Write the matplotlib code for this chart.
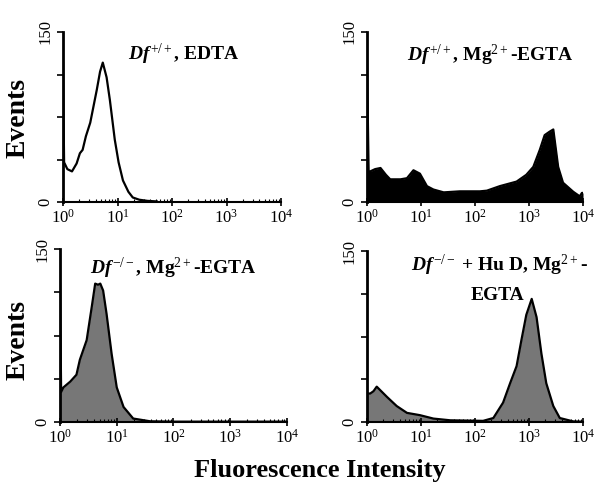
"""
Flow cytometry histograms: four panels
"""
import matplotlib
matplotlib.use('Agg')
import matplotlib.pyplot as plt
from matplotlib.ticker import LogLocator, NullFormatter
import numpy as np

plt.rcParams['font.family'] = ['Liberation Serif', 'DejaVu Serif']
plt.rcParams['mathtext.fontset'] = 'custom'
plt.rcParams['mathtext.rm'] = 'Liberation Serif'
plt.rcParams['mathtext.bf'] = 'Liberation Serif:bold'
plt.rcParams['mathtext.it'] = 'Liberation Serif:italic:bold'

# --- data (log10 intensity, events) ---
# Df+/+, EDTA
tl_logx = [0.0, 0.02, 0.08, 0.165, 0.25, 0.31, 0.36, 0.42, 0.5, 0.62, 0.68, 0.73, 0.8, 0.86, 0.95, 1.02, 1.1, 1.2, 1.28, 1.4, 1.55, 1.72]
tl_y = [123, 35, 29, 27, 34, 43, 46, 58, 70, 99, 115, 123, 110, 90, 55, 35, 19, 9, 4, 2, 1, 0.5]

# Df+/+, Mg2+-EGTA
tr_logx = [0.0, 0.03, 0.06, 0.15, 0.25, 0.35, 0.43, 0.62, 0.74, 0.86, 0.98, 1.11, 1.23, 1.42, 1.72, 2.09, 2.22, 2.46, 2.77, 2.95,
           3.08, 3.2, 3.29, 3.38, 3.45, 3.54, 3.63, 3.82, 3.94, 3.98, 4.0]
tr_y = [124, 27, 27, 29, 30, 24, 20, 20, 21, 28, 25, 14, 11, 8.5, 9.4, 9.4, 10, 14, 18, 24,
        31, 46, 59, 62, 64, 31, 17, 9, 5, 8, 8]

# Df-/-, Mg2+-EGTA
bl_logx = [0.0, 0.02, 0.06, 0.18, 0.29, 0.35, 0.47, 0.56, 0.62, 0.67, 0.71, 0.76, 0.82, 0.91, 1.0, 1.12, 1.29, 1.59, 2.0, 3.0, 4.0]
bl_y = [120, 26, 30, 35, 41, 54, 71, 100, 120, 119, 120, 114, 94, 59, 30, 13, 3, 0.6, 0.3, 0.3, 0.3]

# Df-/- + Hu D, Mg2+-EGTA
br_logx = [0.0, 0.06, 0.12, 0.18, 0.37, 0.55, 0.74, 0.98, 1.23, 1.54, 2.15, 2.34, 2.52, 2.65, 2.77, 2.86, 2.95, 3.05,
           3.14, 3.23, 3.32, 3.45, 3.57, 3.82, 4.0]
br_y = [25, 25, 27, 31, 22, 14, 8, 6, 3, 1.5, 1, 3.5, 17, 34, 49, 72, 94, 108,
        92, 60, 34, 14, 3.5, 0.5, 0.3]

W, H = 596, 497
fig = plt.figure(figsize=(W / 100, H / 100), dpi=100)


def px_axes(left, right, top, bottom):
    return fig.add_axes([left / W, 1 - bottom / H, (right - left) / W, (bottom - top) / H])


def style_axes(ax):
    ax.set_xscale('log')
    ax.set_xlim(1, 1e4)
    ax.set_ylim(0, 150)
    for s in ['top', 'right']:
        ax.spines[s].set_visible(False)
    ax.spines['left'].set_linewidth(2)
    ax.spines['bottom'].set_linewidth(1.5)
    ax.xaxis.set_major_locator(LogLocator(base=10, numticks=10))
    ax.xaxis.set_minor_locator(LogLocator(base=10, subs=np.arange(2, 10), numticks=50))
    ax.xaxis.set_minor_formatter(NullFormatter())
    ax.set_yticks([0, 37.5, 75, 112.5, 150])
    ax.set_yticklabels(['0', '', '', '', '150'], rotation=90, va='center', fontsize=12)
    ax.tick_params(axis='y', direction='out', length=4, width=1.2, pad=3)
    ax.tick_params(axis='x', which='major', direction='inout', length=6, width=1.2, labelsize=12, pad=2)
    ax.tick_params(axis='x', which='minor', direction='in', length=2.5, width=0.8)


panels = [
    (px_axes(63, 281, 32, 202), tl_logx, tl_y, None),
    (px_axes(367, 583, 32, 202), tr_logx, tr_y, 'black'),
    (px_axes(60, 287, 249, 422), bl_logx, bl_y, '#777777'),
    (px_axes(367, 583, 251, 422), br_logx, br_y, '#777777'),
]

for ax, lx, y, fc in panels:
    x = 10 ** np.array(lx)
    if fc is not None:
        ax.fill_between(x, 0, y, color=fc, linewidth=0)
    ax.plot(x, y, color='black', linewidth=1.6)
    style_axes(ax)

# titles
tkw = dict(ha='center', va='center', fontsize=14, weight='bold')
fig.text(184 / W, 1 - 54 / H, r'$\mathit{Df}^{+/+}$, EDTA', **tkw)
fig.text(490 / W, 1 - 55 / H, r'$\mathit{Df}^{+/+}$, Mg$^{2+}$-EGTA', **tkw)
fig.text(173 / W, 1 - 268 / H, r'$\mathit{Df}^{-/-}$, Mg$^{2+}$-EGTA', **tkw)
fig.text(499 / W, 1 - 265 / H, r'$\mathit{Df}^{-/-}$ + Hu D, Mg$^{2+}$-', **tkw)
fig.text(498 / W, 1 - 295 / H, 'EGTA', **tkw)

# axis labels
fig.text(18 / W, 1 - 118 / H, 'Events', rotation=90, ha='center', va='center', fontsize=20, weight='bold')
fig.text(18 / W, 1 - 340 / H, 'Events', rotation=90, ha='center', va='center', fontsize=20, weight='bold')
fig.text(320 / W, 1 - 470 / H, 'Fluorescence Intensity', ha='center', va='center', fontsize=19, weight='bold')

fig.savefig('out.png', dpi=100)
